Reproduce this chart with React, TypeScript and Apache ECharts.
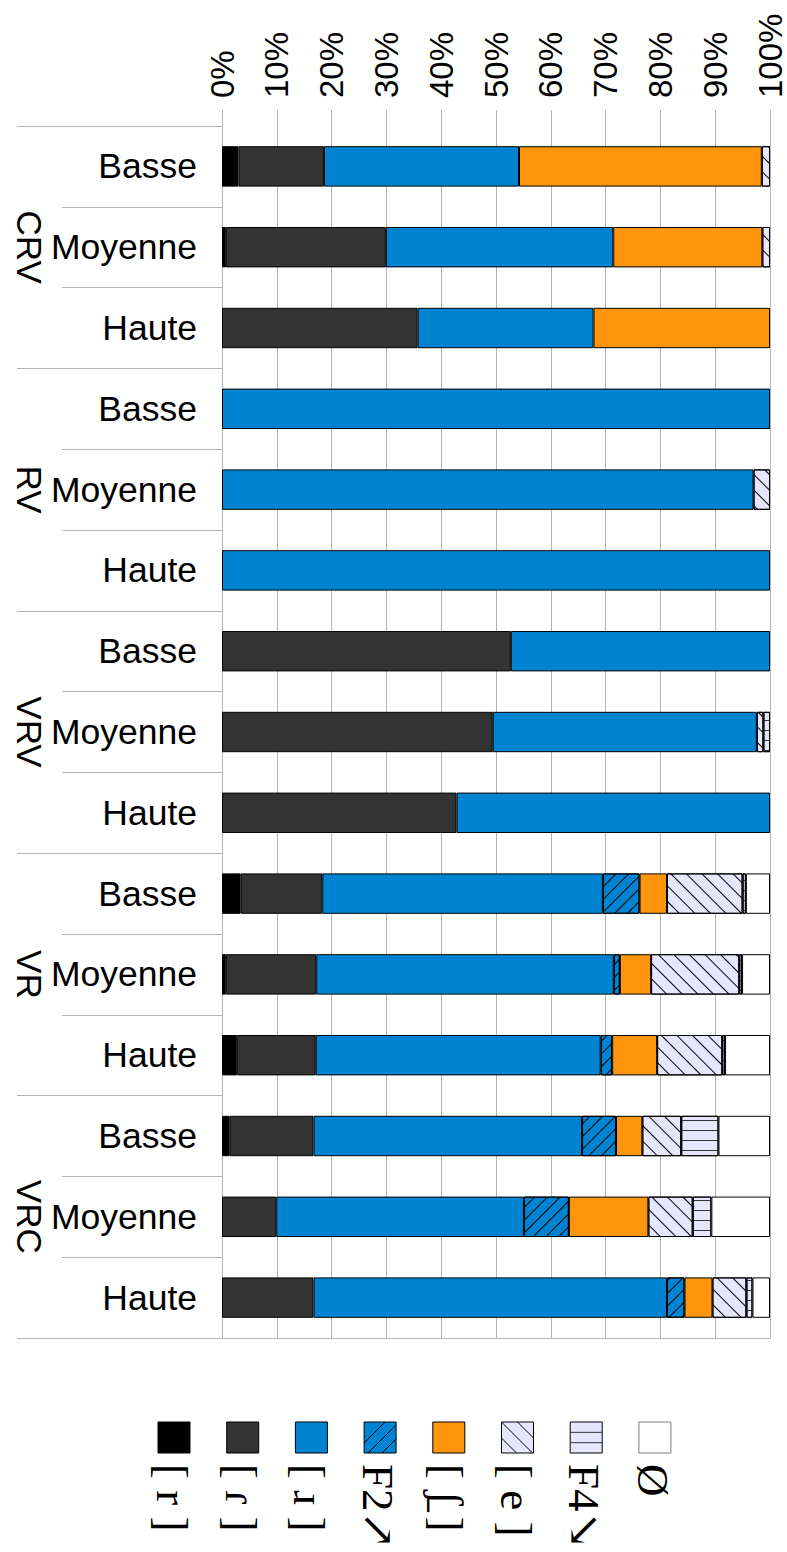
import React, { useEffect, useRef } from "react";
import * as echarts from "echarts";

// ---- data ----
const groups = ["CRV", "RV", "VRV", "VR", "VRC"];
const levels = ["Basse", "Moyenne", "Haute"];
const xTickValues = [0, 10, 20, 30, 40, 50, 60, 70, 80, 90, 100];
const seriesNames = ["[ r ]", "[ ɾ ]", "[ ɹ ]", "F2↗", "[ ʃ̱ ]", "[ e ]", "F4↘", "Ø"];

// rows: CRV(B,M,H), RV(B,M,H), VRV(B,M,H), VR(B,M,H), VRC(B,M,H)
const trill = [3.0, 0.7, 0, 0, 0, 0, 0, 0, 0, 3.4, 0.7, 2.7, 1.4, 0, 0];
const tap = [15.6, 29.2, 35.7, 0, 0, 0, 52.7, 49.4, 42.8, 14.9, 16.5, 14.4, 15.3, 9.9, 16.7];
const approx = [35.6, 41.5, 32.1, 100, 97.0, 100, 47.3, 48.2, 57.2, 51.2, 54.3, 52.0, 49.0, 45.2, 64.5];
const f2Up = [0, 0, 0, 0, 0, 0, 0, 0, 0, 6.7, 1.1, 2.1, 6.2, 8.2, 3.2];
const fricative = [44.3, 27.2, 32.2, 0, 0, 0, 0, 0, 0, 5.0, 5.7, 8.2, 4.8, 14.5, 5.1];
const vowel = [1.5, 1.4, 0, 0, 3.0, 0, 0, 1.2, 0, 13.8, 16.1, 11.9, 7.1, 8.1, 6.2];
const f4Down = [0, 0, 0, 0, 0, 0, 0, 1.2, 0, 0.6, 0.5, 0.5, 6.8, 3.4, 1.1];
const zero = [0, 0, 0, 0, 0, 0, 0, 0, 0, 4.4, 5.1, 8.2, 9.4, 10.7, 3.2];

const seriesValues = [trill, tap, approx, f2Up, fricative, vowel, f4Down, zero];

// ---- styles ----
const GRID = "#b3b3b3";
const SANS = "'Liberation Sans', Arial, sans-serif";
const SERIF = "'Liberation Serif', 'DejaVu Serif', serif";

const slashDecal = {
  symbol: "rect",
  symbolSize: 1,
  dashArrayX: [1, 0],
  dashArrayY: [1, 8],
  rotation: -Math.PI / 4,
  color: "#000",
};
const backslashDecal = {
  symbol: "rect",
  symbolSize: 1,
  dashArrayX: [1, 0],
  dashArrayY: [1, 10],
  rotation: Math.PI / 4,
  color: "#000",
};
const hLineDecal = {
  symbol: "rect",
  symbolSize: 1,
  dashArrayX: [1, 0],
  dashArrayY: [1, 9],
  rotation: 0,
  color: "#333",
};

const seriesStyles: any[] = [
  { color: "#000000" },
  { color: "#333333" },
  { color: "#0084d1" },
  { color: "#0084d1", decal: slashDecal, hatch: "slash" },
  { color: "#ff950e" },
  { color: "#e6e6ff", decal: backslashDecal, hatch: "backslash" },
  { color: "#e6e6ff", decal: hLineDecal, hatch: "hline" },
  { color: "#ffffff", border: "#808080" },
];

function buildLegend() {
  const els: any[] = [];
  const left0 = 158;
  const pitch = 68.7;
  const w = 32;
  const h = 31;
  const top = 1422;
  const labelTop = 1464;
  seriesNames.forEach((name, i) => {
    const st = seriesStyles[i];
    const x0 = left0 + i * pitch;
    els.push({
      type: "rect",
      shape: { x: x0, y: top, width: w, height: h },
      style: { fill: st.color, stroke: st.border || "#000", lineWidth: 1 },
    });
    if (st.hatch === "slash") {
      [21, 35, 49].forEach((c) => {
        const xa = Math.max(0, c - h);
        const xb = Math.min(w, c);
        els.push({
          type: "line",
          shape: { x1: x0 + xa, y1: top + c - xa, x2: x0 + xb, y2: top + c - xb },
          style: { stroke: "#000", lineWidth: 1 },
        });
      });
    } else if (st.hatch === "backslash") {
      [-16, 0, 16].forEach((d) => {
        const xa = Math.max(0, d);
        const xb = Math.min(w, h + d);
        els.push({
          type: "line",
          shape: { x1: x0 + xa, y1: top + xa - d, x2: x0 + xb, y2: top + xb - d },
          style: { stroke: "#000", lineWidth: 1 },
        });
      });
    } else if (st.hatch === "hline") {
      [h / 3, (2 * h) / 3].forEach((yy) => {
        els.push({
          type: "line",
          shape: { x1: x0, y1: top + yy, x2: x0 + w, y2: top + yy },
          style: { stroke: "#333", lineWidth: 1 },
        });
      });
    }
    els.push({
      type: "text",
      x: x0 + w / 2 - 2,
      y: labelTop,
      rotation: -Math.PI / 2,
      style: {
        text: name,
        fontSize: 45,
        fontFamily: SERIF,
        fill: "#000",
        align: "left",
        verticalAlign: "middle",
      },
    });
  });
  return els;
}

export default function App() {
  const ref = useRef<HTMLDivElement>(null);
  useEffect(() => {
    if (!ref.current) return;
    const chart = echarts.init(ref.current, null, { renderer: "svg" });
    const categories: string[] = [];
    groups.forEach((g) => levels.forEach((l) => categories.push(g + "|" + l)));

    const option: any = {
      animation: false,
      backgroundColor: "#ffffff",
      grid: { left: 222, right: 17, top: 126, bottom: 214, containLabel: false },
      xAxis: [
        {
          type: "value",
          position: "top",
          min: xTickValues[0],
          max: xTickValues[xTickValues.length - 1],
          interval: xTickValues[1] - xTickValues[0],
          axisLine: { show: false },
          axisTick: { show: true, length: 16, lineStyle: { color: GRID, width: 1 } },
          splitLine: { show: true, lineStyle: { color: GRID, width: 1 } },
          axisLabel: {
            formatter: "{value}%",
            rotate: -90,
            margin: 28,
            fontSize: 33,
            fontFamily: SANS,
            color: "#000",
          },
        },
        {
          type: "value",
          position: "bottom",
          min: 0,
          max: 100,
          axisLine: { show: true, lineStyle: { color: GRID, width: 1 } },
          axisTick: { show: false },
          axisLabel: { show: false },
          splitLine: { show: false },
        },
      ],
      yAxis: [
        {
          type: "category",
          data: categories,
          inverse: true,
          position: "left",
          axisLine: { show: true, lineStyle: { color: GRID, width: 1 } },
          axisTick: { show: true, interval: 0, length: 160, lineStyle: { color: GRID, width: 1 } },
          axisLabel: {
            interval: 0,
            margin: 25,
            fontSize: 35.5,
            fontFamily: SANS,
            color: "#000",
            formatter: (v: string) => v.split("|")[1],
          },
        },
        {
          type: "category",
          data: groups,
          inverse: true,
          position: "left",
          offset: 0,
          axisLine: { show: true, lineStyle: { color: GRID, width: 1 } },
          axisTick: { show: true, interval: 0, length: 205, lineStyle: { color: GRID, width: 1 } },
          axisLabel: {
            interval: 0,
            rotate: -90,
            margin: 175,
            fontSize: 35,
            fontFamily: SANS,
            color: "#000",
          },
        },
      ],
      series: seriesNames.map((name, i) => {
        const st = seriesStyles[i];
        const itemStyle: any = { color: st.color, borderColor: "#000", borderWidth: 1 };
        if (st.decal) itemStyle.decal = st.decal;
        return {
          name,
          type: "bar",
          stack: "total",
          xAxisIndex: 0,
          yAxisIndex: 0,
          barCategoryGap: "50%",
          itemStyle,
          data: seriesValues[i].map((v) => (v === 0 ? "-" : v)),
        };
      }),
      graphic: buildLegend(),
    };
    chart.setOption(option);
    return () => chart.dispose();
  }, []);
  return (
    <div
      ref={ref}
      style={{ position: "absolute", left: 0, top: 0, width: 787, height: 1552 }}
    />
  );
}
